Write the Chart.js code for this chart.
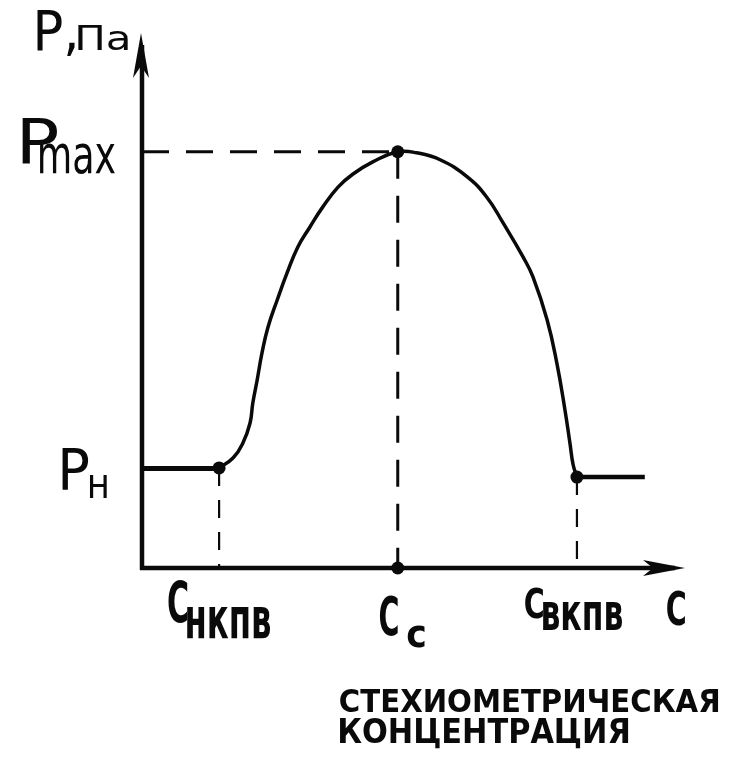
<!DOCTYPE html>
<html><head><meta charset="utf-8">
<script src="https://cdn.jsdelivr.net/npm/chart.js@4/dist/chart.umd.min.js"></script>
<style>html,body{margin:0;padding:0;background:#fff}#wrap{width:732px;height:762px;position:relative}</style>
</head><body><div id="wrap"><canvas id="c" width="732" height="762"></canvas></div>
<script>
// ---- data (concentration C, pressure P in arbitrary units 0..100) ----
const leftFlatX = [0, 14.2];
const leftFlatY = [18.6, 18.6];
const curveX = [14.2,16.8,18.6,19.9,20.4,21.2,22.1,23.2,24.9,26.7,28.7,30.9,33.3,36.1,38.8,42.5,47.1,50.6,54.9,59.9,63.5,66.5,70.2,72.0,74.6,76.4,77.9,78.8,79.4,80.1];
const curveY = [18.7,20.6,23.4,27.1,30.8,35.1,40.2,45.0,50.1,55.1,60.0,63.7,67.5,71.2,73.6,75.9,77.8,77.6,76.3,73.1,69.3,64.5,58.1,54.4,46.4,38.3,29.5,23.4,19.3,17.0];
const rightFlatX = [80.1, 92.6];
const rightFlatY = [17.0, 17.0];
const markX = [14.2, 47.1, 80.1, 47.1];
const markY = [18.7, 77.8, 17.0, 0];
const xTickValues = [14.2, 47.1, 80.1];
const xTickMain = ['C', 'C', 'C'];
const xTickSub = ['нкпв', 'с', 'вкпв'];
const yTickValues = [77.8, 18.6];
const yTickMain = ['P', 'P'];
const yTickSub = ['max', 'н'];
const yTitle = ['P,', 'Па'];
const xTitle = 'C';
const note = ['СТЕХИОМЕТРИЧЕСКАЯ', 'КОНЦЕНТРАЦИЯ'];
const axisMax = 100;

const pts = (xs, ys) => xs.map((x, i) => ({x, y: ys[i]}));
const INK = '#0a0a0a';
const FONT = '"DejaVu Sans"';

// ink-box text: left, baseline, ascent height, ink width
function fitText(ctx, s, left, base, h, w, weight) {
  ctx.save();
  ctx.font = (weight || 'normal') + ' 100px ' + FONT;
  ctx.textBaseline = 'alphabetic';
  const m = ctx.measureText(s);
  const inkW = m.actualBoundingBoxRight + m.actualBoundingBoxLeft;
  const asc = m.actualBoundingBoxAscent;
  const sx = w / inkW, sy = h / asc;
  ctx.translate(left + m.actualBoundingBoxLeft * sx, base);
  ctx.scale(sx, sy);
  ctx.fillStyle = INK;
  ctx.fillText(s, 0, 0);
  ctx.restore();
}

const axesPlugin = {
  id: 'axes',
  beforeDatasetsDraw(chart) {
    const {ctx, scales: {x, y}} = chart;
    const x0 = x.getPixelForValue(0), y0 = y.getPixelForValue(0);
    const xt = x.getPixelForValue(axisMax), yt = y.getPixelForValue(axisMax);
    ctx.save();
    ctx.strokeStyle = INK; ctx.fillStyle = INK; ctx.lineWidth = 4.5; ctx.lineCap = 'butt';
    ctx.beginPath(); ctx.moveTo(x0, y0 + 2); ctx.lineTo(x0, yt + 12); ctx.stroke();
    ctx.beginPath(); ctx.moveTo(x0 - 2, y0); ctx.lineTo(xt - 10, y0); ctx.stroke();
    // y arrow
    ctx.beginPath();
    ctx.moveTo(x0 - 1, yt); ctx.lineTo(x0 - 9, yt + 45); ctx.lineTo(x0 - 1, yt + 33); ctx.lineTo(x0 + 7, yt + 45);
    ctx.closePath(); ctx.fill();
    // x arrow
    ctx.beginPath();
    ctx.moveTo(xt, y0); ctx.lineTo(xt - 42, y0 - 8); ctx.lineTo(xt - 32, y0); ctx.lineTo(xt - 42, y0 + 8);
    ctx.closePath(); ctx.fill();
    ctx.restore();
  }
};

// label boxes relative to tick pixels: [dx, dBase, height, width] for main, then sub
const xLabLayout = [
  [[-51, 623 - 568, 43, 19], [-32, 638 - 568, 31, 83]],
  [[-18, 635 - 568, 40, 18], [10, 647 - 568, 22, 17]],
  [[-52, 618 - 568, 31, 18], [-34, 630 - 568, 28, 79]]
];
const yLabLayout = [
  [[22 - 142, 11, 46, 35], [40 - 142, 21, 30, 75]],
  [[62 - 142, 22, 42, 26], [90 - 142, 30, 23, 17]]
];

const labelPlugin = {
  id: 'labels',
  afterDraw(chart) {
    const {ctx, scales: {x, y}} = chart;
    const x0 = x.getPixelForValue(0), y0 = y.getPixelForValue(0);
    const xt = x.getPixelForValue(axisMax), yt = y.getPixelForValue(axisMax);
    xTickValues.forEach((v, i) => {
      const px = x.getPixelForValue(v);
      const [a, b] = xLabLayout[i];
      fitText(ctx, xTickMain[i], px + a[0], y0 + a[1], a[2], a[3], 'bold');
      fitText(ctx, xTickSub[i], px + b[0], y0 + b[1], b[2], b[3], 'bold');
    });
    yTickValues.forEach((v, i) => {
      const py = y.getPixelForValue(v);
      const [a, b] = yLabLayout[i];
      fitText(ctx, yTickMain[i], x0 + a[0], py + a[1], a[2], a[3]);
      fitText(ctx, yTickSub[i], x0 + b[0], py + b[1], b[2], b[3]);
    });
    fitText(ctx, yTitle[0], 37, yt + 17, 40, 38);
    fitText(ctx, yTitle[1], 78, yt + 17, 25, 50);
    fitText(ctx, xTitle, 667, y0 + 57, 35, 18, 'bold');
    fitText(ctx, note[0], 340, 712, 24, 378, 'bold');
    fitText(ctx, note[1], 340, 743, 25, 288, 'bold');
  }
};

const dashed = (data, w, dash) => ({data, showLine: true, borderColor: INK, borderWidth: w, borderDash: dash, pointRadius: 0, clip: false, tension: 0, borderCapStyle: 'butt'});

new Chart(document.getElementById('c'), {
  type: 'scatter',
  data: {
    datasets: [
      dashed([{x: 0, y: markY[1]}, {x: markX[1], y: markY[1]}], 3, [27, 17]),
      dashed([{x: markX[1], y: markY[1]}, {x: markX[1], y: 0}], 3, [27, 17]),
      dashed([{x: markX[0], y: markY[0]}, {x: markX[0], y: 0}], 2.2, [18, 14]),
      dashed([{x: markX[2], y: markY[2]}, {x: markX[2], y: 0}], 2.2, [18, 14]),
      {data: pts(leftFlatX, leftFlatY), showLine: true, borderColor: INK, borderWidth: 5, pointRadius: 0, clip: false},
      {data: pts(rightFlatX, rightFlatY), showLine: true, borderColor: INK, borderWidth: 4.5, pointRadius: 0, clip: false},
      {data: pts(curveX, curveY), showLine: true, borderColor: INK, borderWidth: 3.5, pointRadius: 0, clip: false, tension: 0.45, borderJoinStyle: 'round'},
      {data: pts(markX, markY), showLine: false, pointRadius: 6.5, pointBackgroundColor: INK, pointBorderColor: INK, pointBorderWidth: 0, clip: false}
    ]
  },
  options: {
    responsive: false, animation: false, devicePixelRatio: 1,
    layout: {padding: {left: 142, right: 47, top: 33, bottom: 194}},
    plugins: {legend: {display: false}, tooltip: {enabled: false}},
    scales: {
      x: {type: 'linear', min: 0, max: axisMax, display: false},
      y: {type: 'linear', min: 0, max: axisMax, display: false}
    }
  },
  plugins: [axesPlugin, labelPlugin]
});
</script>
</body></html>
